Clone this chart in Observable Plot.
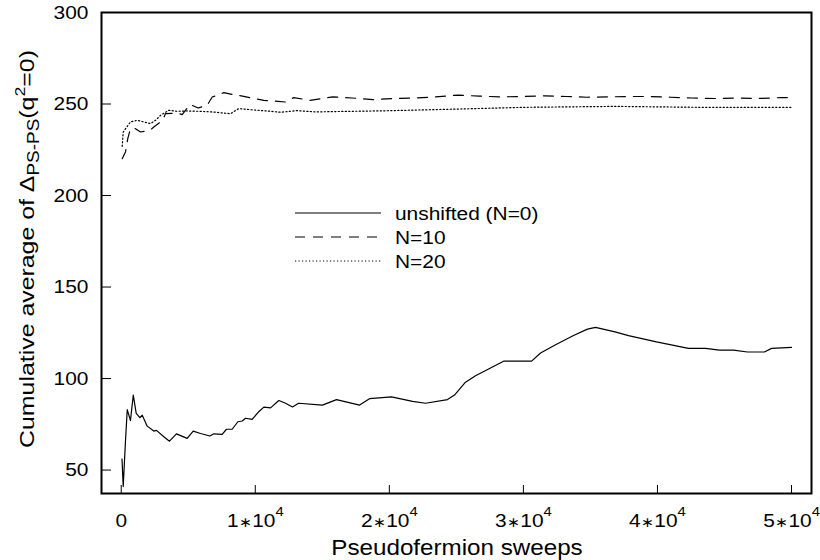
<!DOCTYPE html>
<html><head><meta charset="utf-8">
<script src="https://cdn.jsdelivr.net/npm/d3@7"></script>
<script src="https://cdn.jsdelivr.net/npm/@observablehq/plot@0.6"></script>
<style>
body{margin:0;background:#fff;}
#chart{position:relative;width:820px;height:560px;}
</style></head><body><div id="chart"></div>
<script>
// ---- data ----
const seriesNames = ["unshifted (N=0)", "N=10", "N=20"];

const unshiftedSweeps = [60,150,320,450,690,900,1120,1390,1570,1940,2430,2630,3180,3600,4120,4920,5370,5920,6610,6910,7530,7850,8280,8700,9030,9270,9770,10260,10640,11140,11760,12260,12780,13230,15010,16060,17780,18520,20160,21730,22700,24340,24860,25680,26430,27730,28520,29570,30610,31280,32400,33740,34780,35380,36830,37840,39930,42310,43580,44620,45670,46710,47980,48510,50000];
const unshiftedValues = [56,41,66,83,77,91,81,78.6,80,74,71.3,71.7,68.2,65.8,69.8,67.3,71.3,70,68.6,69.8,69.5,72.3,72.3,76.4,76.8,78.3,77.7,81.9,84.4,84,88,86.5,84.5,86.5,85.5,88.5,85.5,89,90,87.5,86.5,88.5,91,98,101.5,106.5,109.5,109.5,109.5,114,118.5,123.5,127,128,125.5,123.5,120,116.5,116.5,115.5,115.5,114.5,114.5,116.5,117];

const n10Sweeps = [75,320,490,690,1070,1440,2130,2430,3100,3300,4180,4550,5120,5740,6410,6790,7650,8400,9140,9890,10640,11380,12260,12870,14090,15780,17210,18770,20330,21880,23440,25140,26700,28250,29950,31630,33190,34750,36310,37870,39430,40990,42550,44240,45930,47490,49180,50000];
const n10Values = [220.1,223.8,231.1,236.5,236.5,234.7,235.6,237.4,241.1,244.7,245.1,244.2,249.8,247.8,249.3,253.8,256.2,255.1,254.2,253,252,251.6,251.1,253.5,252,253.9,253.3,252.4,253,253.3,253.9,254.9,254.3,253.9,254.1,254.5,254.1,253.7,253.9,254.1,254.1,253.7,253.3,253,253.3,253,253.5,253.5];

const n20Sweeps = [75,150,690,1190,1690,2190,2560,2930,3550,4180,4920,5920,6910,8150,8770,9640,10890,11880,13130,14480,19680,24860,30070,36830,43060,50000];
const n20Values = [226.9,234.7,240.2,241.1,240.2,239.3,241.1,243.8,246.6,246,246.2,246,245.6,244.7,247.5,246.9,246.2,245.5,246.4,245.7,246.3,247.2,248.2,248.7,248.2,248.2];

const xTicks = [0, 10000, 20000, 30000, 40000, 50000];
const yTicks = [50, 100, 150, 200, 250, 300];
const xDomain = [-1470, 51490];
const yDomain = [37.2, 300];
const xTitle = "Pseudofermion sweeps";

// ---- layout / style ----
const W = 820, H = 560, mL = 101, mR = 9, mT = 12, mB = 67;
const plotW = W - mL - mR, plotH = H - mT - mB;
const FONT = "'Liberation Sans', Arial, Helvetica, sans-serif";
const STRETCH = 1.1;

const rows = (xs, ys) => xs.map((s, i) => ({sweeps: s, value: ys[i]}));
const dash = ["none", "10,8", "1.2,2.3"];

const fmt = d => d === 0 ? "0" : `${d / 1e4}|∗|10^4`;

const svg = Plot.plot({
  width: W, height: H,
  marginLeft: mL, marginRight: mR, marginTop: mT, marginBottom: mB,
  style: {fontFamily: FONT, fontSize: "19px", color: "black", background: "white", overflow: "visible"},
  x: {domain: xDomain},
  y: {domain: yDomain},
  marks: [
    Plot.line(rows(unshiftedSweeps, unshiftedValues), {x: "sweeps", y: "value", stroke: "black", strokeWidth: 1.2}),
    Plot.line(rows(n10Sweeps, n10Values), {x: "sweeps", y: "value", stroke: "black", strokeWidth: 1.2, strokeDasharray: dash[1]}),
    Plot.line(rows(n20Sweeps, n20Values), {x: "sweeps", y: "value", stroke: "black", strokeWidth: 1.2, strokeDasharray: dash[2]}),
    Plot.tickX(xTicks, {x: d => d, stroke: "black", strokeWidth: 1, insetTop: plotH - 8}),
    Plot.tickY(yTicks, {y: d => d, stroke: "black", strokeWidth: 1, insetRight: plotW - 10}),
    Plot.frame({stroke: "black", strokeWidth: 2}),
    Plot.axisX(xTicks, {tickSize: 0, tickPadding: 20, tickFormat: fmt, fontSize: 19, label: null}),
    Plot.axisY(yTicks, {tickSize: 0, tickPadding: 13, fontSize: 19, label: null})
  ]
});
document.getElementById("chart").appendChild(svg);
const S = d3.select(svg);

// superscripts in x tick labels + horizontal stretch of all tick labels
S.selectAll('[aria-label="x-axis tick label"] text').each(function () {
  const el = d3.select(this);
  const t = this.textContent;
  if (t.includes("^")) {
    const [a, star, rest] = t.split("|");
    const [b, e] = rest.split("^");
    el.text(null);
    el.append("tspan").text(a);
    el.append("tspan").attr("font-size", 14).text(star);
    el.append("tspan").text(b);
    el.append("tspan").attr("font-size", 13.5).attr("dy", -11).text(e);
  }
});
S.selectAll('[aria-label="x-axis tick label"] text, [aria-label="y-axis tick label"] text').each(function () {
  const el = d3.select(this);
  const tr = el.attr("transform") || "";
  el.attr("transform", tr + ` scale(${STRETCH},1)`);
});

// x title
const xt = S.append("text").attr("font-family", FONT).attr("font-size", 22).attr("fill", "black")
  .attr("text-anchor", "middle").text(xTitle);
xt.attr("transform", `translate(457,555) scale(${STRETCH},1)`);

// y title with subscript / superscript
const yt = S.append("text").attr("font-family", FONT).attr("font-size", 21).attr("fill", "black")
  .attr("text-anchor", "middle");
yt.append("tspan").text("Cumulative average of Δ");
yt.append("tspan").attr("font-size", 16).attr("dy", 5).text("PS-PS");
yt.append("tspan").attr("dy", -5).text("(q");
yt.append("tspan").attr("font-size", 15).attr("dy", -9).text("2");
yt.append("tspan").attr("dy", 9).text("=0)");
const yL = yt.node().getComputedTextLength() || 350;
yt.attr("transform", `translate(34,249) rotate(-90) scale(${398 / yL},1)`);

// legend
const legY = [213, 237, 261];
const legTextY = [220, 244, 268];
const lg = S.append("g");
seriesNames.forEach((name, i) => {
  lg.append("line").attr("x1", 295).attr("x2", 381).attr("y1", legY[i]).attr("y2", legY[i])
    .attr("stroke", "black").attr("stroke-width", 1.2)
    .attr("stroke-dasharray", dash[i] === "none" ? null : dash[i]);
  lg.append("text").attr("font-family", FONT).attr("font-size", 19).attr("fill", "black")
    .attr("text-anchor", "start")
    .attr("transform", `translate(395,${legTextY[i]}) scale(${STRETCH},1)`).text(name);
});
</script></body></html>
